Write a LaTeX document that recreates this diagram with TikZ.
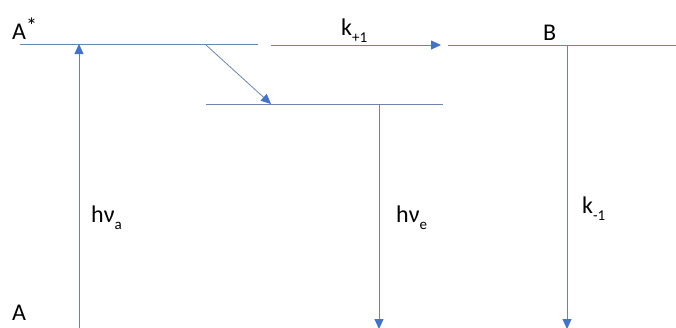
\documentclass[tikz,border=0pt]{standalone}
\usepackage{fontspec}
\setmainfont{Carlito}
\usetikzlibrary{arrows.meta}
\definecolor{levelline}{HTML}{6A86AC}
\definecolor{tipblue}{HTML}{4472C4}
\newcommand{\lowidx}[1]{\raisebox{-0.3em}{\fontsize{15}{15}\selectfont #1}}
\newcommand{\highidx}[1]{\raisebox{0.25em}{\fontsize{22}{22}\selectfont #1}}

\begin{document}
\begin{tikzpicture}[x=1pt, y=-1pt,
      level/.style={draw=levelline, line width=0.8pt},
      ray/.style={draw=levelline, line width=0.8pt,
                  -{Triangle[length=10pt, width=9pt, color=tipblue]}},
      lbl/.style={font=\fontsize{24}{26}\selectfont, text=black,
                  inner sep=0pt, anchor=base west}
    ]
      \useasboundingbox (0,0) rectangle (676,327);

      % energy levels
      \coordinate (astar-l) at (20,44);
      \coordinate (astar-r) at (258,44);
      \coordinate (kp-l) at (271,45);
      \coordinate (kp-r) at (441,45);
      \coordinate (b-l) at (448,45);
      \coordinate (b-r) at (676,45);
      \coordinate (mid-l) at (206,104);
      \coordinate (mid-r) at (443,104);
      \draw[level] (astar-l) -- (astar-r);
      \draw[level] (b-l) -- (b-r);
      \draw[level] (mid-l) -- (mid-r);

      % transitions
      \coordinate (abs-bot) at (79,330);
      \coordinate (abs-top) at (79,44);
      \coordinate (rel-top) at (206,45);
      \coordinate (rel-bot) at (271,104);
      \coordinate (emi-top) at (379,104);
      \coordinate (emi-bot) at (379,329);
      \coordinate (back-top) at (567,45);
      \coordinate (back-bot) at (567,329);
      \draw[ray] (abs-bot) -- (abs-top);
      \draw[ray] (rel-top) -- (rel-bot);
      \draw[ray] (kp-l) -- (kp-r);
      \draw[ray] (emi-top) -- (emi-bot);
      \draw[ray] (back-top) -- (back-bot);

      % labels
      \node[lbl] (astar) at (12,39) {A\highidx{*}};
      \node[lbl] (a) at (12,320) {A};
      \node[lbl] (b) at (543,40) {B};
      \node[lbl] (kplus) at (341,35) {k\lowidx{+1}};
      \node[lbl] (hva) at (91,222) {hν\lowidx{a}};
      \node[lbl] (hve) at (396,222) {hν\lowidx{e}};
      \node[lbl] (kminus) at (582,213) {k\lowidx{-1}};
    \end{tikzpicture}
\end{document}
